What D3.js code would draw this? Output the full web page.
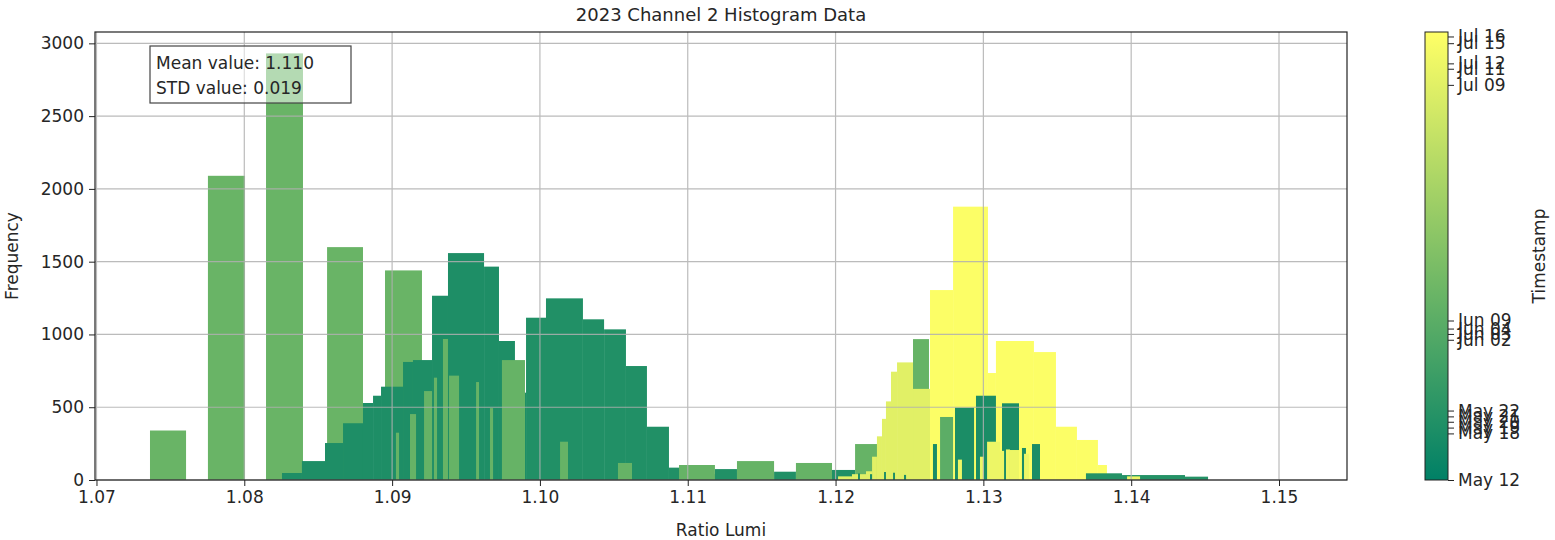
<!DOCTYPE html>
<html>
<head>
<meta charset="utf-8">
<title>2023 Channel 2 Histogram Data</title>
<script src="https://d3js.org/d3.v7.min.js"></script>
<style>
  body { margin: 0; background: #fff; }
  text { font-family: "DejaVu Sans", sans-serif; fill: #262626; }
</style>
</head>
<body>
<script>
// colour bar ticks: date label + normalised timestamp (0 = May 12, 1 = Jul 16)
var cbarDates = ["May 12", "May 18", "May 19", "May 20", "May 21", "May 22", "Jun 02", "Jun 03", "Jun 04", "Jun 09", "Jul 09", "Jul 11", "Jul 12", "Jul 15", "Jul 16"];
var cbarPos = [0, 0.104, 0.117, 0.13, 0.142, 0.155, 0.313, 0.326, 0.338, 0.356, 0.882, 0.918, 0.93, 0.975, 0.99];

var xTicks = [1.07, 1.08, 1.09, 1.10, 1.11, 1.12, 1.13, 1.14, 1.15];
var yTicks = [0, 500, 1000, 1500, 2000, 2500, 3000];

var meanValue = 1.110, stdValue = 0.019;

// histograms, each: bin edges + counts (0 = empty bin)
var wideEdges = [1.07362, 1.07606, 1.07754, 1.08005, 1.08147, 1.08397, 1.08560, 1.08803, 1.08952, 1.09202];
var wideCounts = [340, 0, 2090, 0, 2931, 0, 1600, 0, 1440];

var leftEdges = [1.08255, 1.08390, 1.08546, 1.08668, 1.08803, 1.08871, 1.08925, 1.09074, 1.09141, 1.09270, 1.09378, 1.09622, 1.09723, 1.09831, 1.09906];
var leftCounts = [48, 130, 254, 390, 529, 579, 641, 811, 824, 1266, 1559, 1466, 955, 600];

var rightEdges = [1.09906, 1.10041, 1.10291, 1.10434, 1.10582, 1.10724, 1.10873];
var rightCounts = [1115, 1248, 1104, 1035, 783, 366];

var tailEdges = [1.10873, 1.10948, 1.11184, 1.11333, 1.11584, 1.11732, 1.11976, 1.12132, 1.12233];
var tailCounts = [85, 40, 75, 45, 57, 40, 69, 30];

var spikeEdges = [1.09026, 1.09047, 1.09121, 1.09162, 1.09216, 1.09270, 1.09283, 1.09304, 1.09344, 1.09378, 1.09385, 1.09453,
  1.09568, 1.09588, 1.09662, 1.09683, 1.09743, 1.09899, 1.10136, 1.10190, 1.10528, 1.10623, 1.10941, 1.11184,
  1.11333, 1.11584, 1.11732, 1.11976, 1.12132, 1.12287, 1.12524, 1.12632];
var spikeCounts = [325, 0, 453, 0, 611, 0, 703, 0, 969, 0, 717, 0, 673, 0, 494, 0, 824, 0, 263, 0, 117, 0, 103, 0, 130, 0, 117, 0, 247, 0, 968];

var paleEdges = [1.12017, 1.12111, 1.12206, 1.12247, 1.12280, 1.12314, 1.12341, 1.12375, 1.12416, 1.12524, 1.12639];
var paleCounts = [25, 40, 60, 160, 300, 420, 540, 744, 808, 626];

var julyEdges = [1.12639, 1.12795, 1.13031, 1.13085, 1.13342, 1.13491, 1.13633, 1.13775, 1.13836, 1.13891];
var julyCounts = [1305, 1878, 735, 955, 879, 366, 275, 103, 30];

var tickEdges = [1.12152, 1.12165, 1.12233, 1.12247, 1.12328, 1.12341, 1.12389, 1.12402, 1.12463, 1.12477, 1.12659, 1.12686];
var tickCounts = [45, 0, 40, 0, 55, 0, 50, 0, 35, 0, 247];

var junEdges = [1.12707, 1.12795];
var junCounts = [433];

var clusterEdges = [1.12808, 1.12937, 1.12950, 1.13085, 1.13126, 1.13241, 1.13261, 1.13288, 1.13329, 1.13383];
var clusterCounts = [497, 0, 579, 0, 527, 0, 220, 0, 247];

var farEdges = [1.13694, 1.13938, 1.14364, 1.14520];
var farCounts = [46, 34, 23];

var lateEdges = [1.12828, 1.12855, 1.12977, 1.13004, 1.13025, 1.13112, 1.13140, 1.13153, 1.13180, 1.13241, 1.13275, 1.13309, 1.13972, 1.14060];
var lateCounts = [140, 0, 160, 0, 263, 200, 0, 210, 206, 0, 180, 0, 25];

// draw order and normalised timestamp of each histogram
var series = [
  { t: 0.41, edges: wideEdges, counts: wideCounts },
  { t: 0.117, edges: leftEdges, counts: leftCounts },
  { t: 0.13, edges: rightEdges, counts: rightCounts },
  { t: 0.13, edges: tailEdges, counts: tailCounts },
  { t: 0.40, edges: spikeEdges, counts: spikeCounts },
  { t: 0.882, edges: paleEdges, counts: paleCounts },
  { t: 0.99, edges: julyEdges, counts: julyCounts },
  { t: 0.104, edges: tickEdges, counts: tickCounts },
  { t: 0.36, edges: junEdges, counts: junCounts },
  { t: 0.104, edges: clusterEdges, counts: clusterCounts },
  { t: 0.142, edges: farEdges, counts: farCounts },
  { t: 0.93, edges: lateEdges, counts: lateCounts }
];

// matplotlib "summer" colormap
function summer(t) {
  return d3.rgb(255 * t, 255 * (0.5 + t / 2), 102);
}

var W = 1555, H = 540;
var L = 95, R = 1347, T = 32, B = 480;

var svg = d3.select('body').append('svg')
  .attr('width', W)
  .attr('height', H);

var x = d3.scaleLinear().domain([1.0699, 1.1546]).range([L, R]);
var y = d3.scaleLinear().domain([0, 3078]).range([B, T]);

var plot = svg.append('g');

series.forEach(function(s) {
  var bins = s.counts.map(function(c, i) {
    return { x0: s.edges[i], x1: s.edges[i + 1], c: c };
  }).filter(function(b) { return b.c > 0; });
  plot.selectAll(null)
    .data(bins)
    .enter()
    .append('rect')
    .attr('x', function(b) { return x(b.x0); })
    .attr('width', function(b) { return x(b.x1) - x(b.x0); })
    .attr('y', function(b) { return y(b.c); })
    .attr('height', function(b) { return B - y(b.c); })
    .attr('fill', summer(s.t));
});

// grid on top of the bars
var grid = svg.append('g')
  .attr('stroke', '#b0b0b0')
  .attr('stroke-width', 1.2)
  .attr('opacity', 0.85);
grid.selectAll(null).data(xTicks).enter().append('line')
  .attr('x1', function(d) { return x(d); }).attr('x2', function(d) { return x(d); })
  .attr('y1', T).attr('y2', B);
grid.selectAll(null).data(yTicks).enter().append('line')
  .attr('y1', function(d) { return y(d); }).attr('y2', function(d) { return y(d); })
  .attr('x1', L).attr('x2', R);

// axes
var xAxis = svg.append('g')
  .attr('transform', 'translate(0,' + B + ')')
  .call(d3.axisBottom(x).tickValues(xTicks).tickFormat(d3.format('.2f')).tickSize(6).tickPadding(5));
var yAxis = svg.append('g')
  .attr('transform', 'translate(' + L + ',0)')
  .call(d3.axisLeft(y).tickValues(yTicks).tickFormat(d3.format('d')).tickSize(6).tickPadding(5));
[xAxis, yAxis].forEach(function(a) {
  a.select('.domain').remove();
  a.selectAll('text').style('font-size', '17px').attr('fill', '#262626');
  a.selectAll('line').attr('stroke', '#222');
});

svg.append('rect')
  .attr('x', L).attr('y', T)
  .attr('width', R - L).attr('height', B - T)
  .attr('fill', 'none')
  .attr('stroke', '#222')
  .attr('stroke-width', 1.2);

// stats box
svg.append('rect')
  .attr('x', 150).attr('y', 46)
  .attr('width', 201).attr('height', 57)
  .attr('fill', 'white').attr('fill-opacity', 0.5)
  .attr('stroke', '#444').attr('stroke-width', 1.2);
svg.append('text')
  .attr('x', 156).attr('y', 69)
  .style('font-size', '17px')
  .text('Mean value: ' + meanValue.toFixed(3));
svg.append('text')
  .attr('x', 156).attr('y', 94)
  .style('font-size', '17px')
  .text('STD value: ' + stdValue.toFixed(3));

// titles
svg.append('text')
  .attr('x', (L + R) / 2).attr('y', 21)
  .attr('text-anchor', 'middle')
  .style('font-size', '18px')
  .text('2023 Channel 2 Histogram Data');
svg.append('text')
  .attr('x', (L + R) / 2).attr('y', 536)
  .attr('text-anchor', 'middle')
  .style('font-size', '17px')
  .text('Ratio Lumi');
svg.append('text')
  .attr('transform', 'translate(18,' + (T + B) / 2 + ') rotate(-90)')
  .attr('text-anchor', 'middle')
  .style('font-size', '17px')
  .text('Frequency');

// colour bar
var cbL = 1425, cbW = 23;
var defs = svg.append('defs');
var grad = defs.append('linearGradient')
  .attr('id', 'summer')
  .attr('x1', 0).attr('y1', 1).attr('x2', 0).attr('y2', 0);
grad.append('stop').attr('offset', 0).attr('stop-color', summer(0));
grad.append('stop').attr('offset', 1).attr('stop-color', summer(1));

svg.append('rect')
  .attr('x', cbL).attr('y', T)
  .attr('width', cbW).attr('height', B - T)
  .attr('fill', 'url(#summer)')
  .attr('stroke', '#222').attr('stroke-width', 1);

var cb = d3.scaleLinear().domain([0, 1]).range([B, T]);
var cbAxis = svg.append('g')
  .attr('transform', 'translate(' + (cbL + cbW) + ',0)')
  .call(d3.axisRight(cb).tickValues(cbarPos)
    .tickFormat(function(d, i) { return cbarDates[i]; })
    .tickSize(6).tickPadding(4));
cbAxis.select('.domain').remove();
cbAxis.selectAll('text').style('font-size', '17px').attr('fill', '#262626');
cbAxis.selectAll('line').attr('stroke', '#222');

svg.append('text')
  .attr('transform', 'translate(1545,' + (T + B) / 2 + ') rotate(-90)')
  .attr('text-anchor', 'middle')
  .style('font-size', '17px')
  .text('Timestamp');
</script>
</body>
</html>
